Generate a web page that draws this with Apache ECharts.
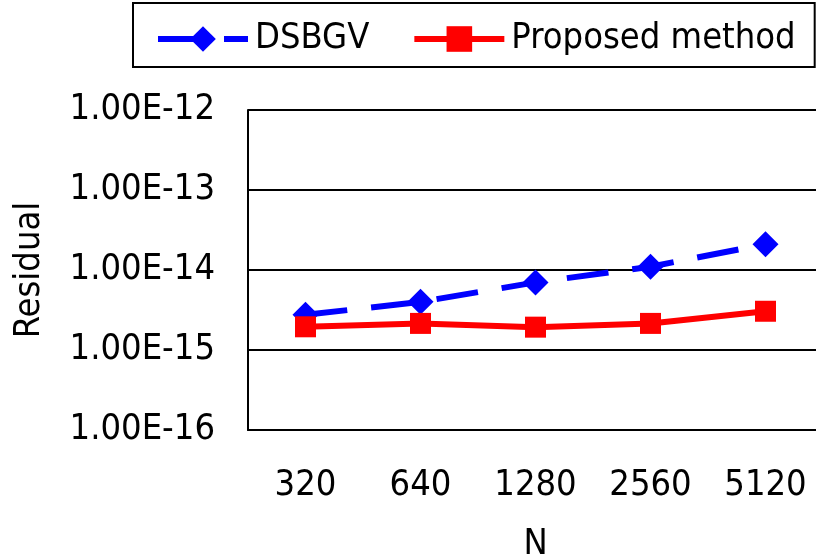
<!DOCTYPE html>
<html>
<head>
<meta charset="utf-8">
<script src="https://cdn.jsdelivr.net/npm/echarts@6/dist/echarts.min.js"></script>
<style>html,body{margin:0;padding:0;background:#fff}#c{width:816px;height:559px}</style>
</head>
<body>
<div id="c"></div>
<script>
const categories = ['320', '640', '1280', '2560', '5120'];
const dsbgv = [2.75e-15, 4.0e-15, 7.0e-15, 1.1e-14, 2.1e-14];
const proposed = [1.95e-15, 2.15e-15, 1.93e-15, 2.15e-15, 3.05e-15];
const yTicks = [1e-16, 1e-15, 1e-14, 1e-13, 1e-12];

const FONT = "'DejaVu Sans Condensed', 'Liberation Sans', sans-serif";
const chart = echarts.init(document.getElementById('c'), null, {renderer: 'canvas'});
chart.setOption({
  animation: false,
  backgroundColor: '#fff',
  legend: {
    orient: 'horizontal',
    left: 133, top: 3,
    padding: [18, 19, 10, 22],
    borderColor: '#000', borderWidth: 2, borderRadius: 0,
    itemWidth: 90, itemHeight: 32, itemGap: 42,
    lineStyle: {width: 6},
    textStyle: {fontFamily: FONT, fontSize: 36, color: '#000', padding: [0, 0, 0, 2]},
    data: ['DSBGV', 'Proposed method']
  },
  grid: {left: 248, top: 110, right: -7, bottom: 129, containLabel: false, outerBoundsMode: 'none'},
  xAxis: {
    type: 'category', data: categories, boundaryGap: true,
    name: 'N', nameLocation: 'middle', nameGap: 97,
    nameTextStyle: {fontFamily: FONT, fontSize: 36, color: '#000'},
    axisLine: {lineStyle: {color: '#000', width: 2}},
    axisTick: {inside: true, length: 10, interval: 0, lineStyle: {color: '#000', width: 2}},
    axisLabel: {fontFamily: FONT, fontSize: 36, color: '#000', margin: 38, interval: 0},
    splitLine: {show: false}
  },
  yAxis: {
    type: 'log', logBase: 10, min: yTicks[0], max: yTicks[yTicks.length - 1],
    name: 'Residual', nameLocation: 'middle', nameGap: 200, nameRotate: 90,
    nameTextStyle: {fontFamily: FONT, fontSize: 36, color: '#000'},
    axisLine: {show: true, lineStyle: {color: '#000', width: 2}},
    axisTick: {show: true, inside: true, length: 10, lineStyle: {color: '#000', width: 2}},
    axisLabel: {
      fontFamily: FONT, fontSize: 36, color: '#000', margin: 33, padding: [10, 0, 0, 0],
      formatter: function (v) {
        const e = Math.round(Math.log10(v));
        return '1.00E' + (e < 0 ? '-' : '+') + String(Math.abs(e)).padStart(2, '0');
      }
    },
    splitLine: {show: true, lineStyle: {color: '#000', width: 2}}
  },
  series: [
    {
      name: 'DSBGV', type: 'line', data: dsbgv,
      symbol: 'diamond', symbolSize: 26,
      itemStyle: {color: '#0000ff'},
      lineStyle: {color: '#0000ff', width: 6, type: [42, 24]}
    },
    {
      name: 'Proposed method', type: 'line', data: proposed,
      symbol: 'rect', symbolSize: 21,
      itemStyle: {color: '#ff0000'},
      lineStyle: {color: '#ff0000', width: 6, type: 'solid'}
    }
  ]
});
</script>
</body>
</html>
